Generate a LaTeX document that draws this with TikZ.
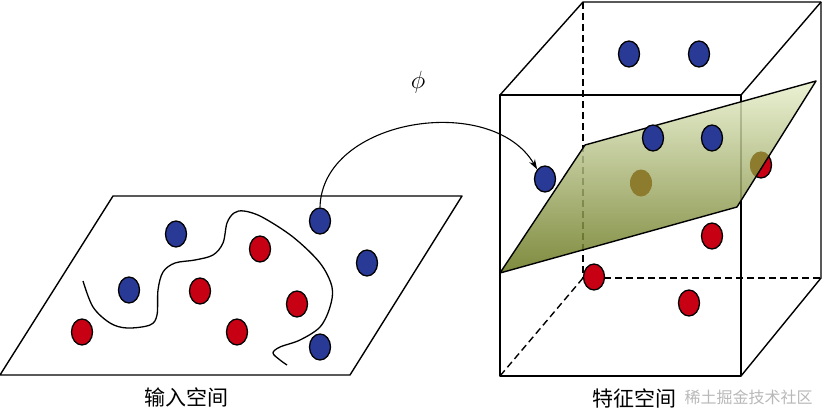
\documentclass[tikz,border=0pt]{standalone}
\usepackage{fontspec}
\newfontfamily\cjk{Noto Sans CJK SC}
\usetikzlibrary{shapes.geometric,arrows.meta}
\definecolor{dotblue}{RGB}{40,58,150}
\definecolor{dotred}{RGB}{200,0,20}
\definecolor{dotolive}{RGB}{142,124,46}
\definecolor{planetop}{RGB}{232,240,205}
\definecolor{planebot}{RGB}{104,118,28}
\tikzset{
  dot/.style={ellipse,draw=black,line width=1.3pt,minimum width=21pt,minimum height=26pt,inner sep=0pt},
  bdot/.style={dot,fill=dotblue},
  rdot/.style={dot,fill=dotred},
  odot/.style={ellipse,fill=dotolive,minimum width=22pt,minimum height=27pt,inner sep=0pt},
  edge/.style={line width=1.4pt,line join=round},
  hidden/.style={edge,dashed,dash pattern=on 7pt off 4pt},
  lbl/.style={font=\cjk\fontsize{21}{23}\selectfont},
  wm/.style={font=\cjk\fontsize{16}{18}\selectfont,text=black!28},
}
\begin{document}
\begin{tikzpicture}[x=1pt,y=-1pt]
\useasboundingbox (0,0) rectangle (823,413);
% ---------- input space plane ----------
\coordinate (pa) at (113,196);
\coordinate (pb) at (462,196);
\coordinate (pc) at (350,375);
\coordinate (pd) at (0,375);
\draw[edge] (pa) -- (pb) -- (pc) -- (pd) -- cycle;
\draw[line width=1.3pt] plot[smooth,tension=0.55] coordinates {
 (83,281) (93,307) (110,323) (127,328) (150,325) (157,315) (158,290) (163,272)
 (175,263) (195,260) (213,255) (223,243) (227,223) (234,213) (244,211) (262,217)
 (293,237) (320,263) (332,287) (330,307) (320,327) (300,340) (280,347) (273,353)
 (280,360) (287,365)};
\node[bdot] (l1) at (320,221) {};
\node[bdot] (l2) at (176,234) {};
\node[rdot] (l3) at (260,249) {};
\node[bdot] (l4) at (367,263) {};
\node[bdot] (l5) at (129,290) {};
\node[rdot] (l6) at (200,291) {};
\node[rdot] (l7) at (297,304) {};
\node[rdot] (l8) at (82,332) {};
\node[rdot] (l9) at (237,332) {};
\node[bdot] (l10) at (320,347) {};
\node[lbl] (lin) at (186,397) {输入空间};
% ---------- cube ----------
\coordinate (f1) at (500,95);
\coordinate (f2) at (741,95);
\coordinate (f3) at (741,376);
\coordinate (f4) at (500,376);
\coordinate (b1) at (583,2);
\coordinate (b2) at (821,2);
\coordinate (b3) at (821,278);
\coordinate (b4) at (583,278);
\draw[hidden] (b1) -- (b4) -- (b3);
\draw[hidden] (b4) -- (f4);
\draw[edge] (f1) -- (f2) -- (f3) -- (f4) -- cycle;
\draw[edge] (f1) -- (b1) -- (b2) -- (b3) -- (f3);
\draw[edge] (f2) -- (b2);
% dot partly behind the plane
\node[rdot] (c7) at (761,165) {};
% separating plane
\coordinate (s1) at (500,273);
\coordinate (s2) at (585,145);
\coordinate (s3) at (816,81);
\coordinate (s4) at (737,207);
\shade[top color=planetop,bottom color=planebot,opacity=0.85] (s1) -- (s2) -- (s3) -- (s4) -- cycle;
\begin{scope}
  \clip (s1) -- (s2) -- (s3) -- (s4) -- cycle;
  \node[odot] (c7o) at (c7) {};
\end{scope}
\node[odot] (c6) at (641,183) {};
\draw[edge] (s1) -- (s2) -- (s3) -- (s4) -- cycle;
% dots in front
\node[bdot] (c1) at (629,54) {};
\node[bdot] (c2) at (699,54) {};
\node[bdot] (c3) at (653,138) {};
\node[bdot] (c4) at (712,138) {};
\node[bdot] (c5) at (545,179) {};
\node[rdot] (c8) at (712,236) {};
\node[rdot] (c9) at (594,277) {};
\node[rdot] (c10) at (689,303) {};
\node[lbl] (lfeat) at (634,398) {特征空间};
\node[wm,anchor=west] (wmark) at (681,397) {稀土掘金技术社区};
% ---------- mapping arrow ----------
\draw[line width=1.1pt,-{Stealth[length=10pt,width=6.5pt]}] (l1.north) .. controls (322,118) and (492,92) .. (c5.north west);
\node[font=\fontsize{24}{26}\selectfont] (phi) at (418,82) {$\phi$};
\end{tikzpicture}
\end{document}
